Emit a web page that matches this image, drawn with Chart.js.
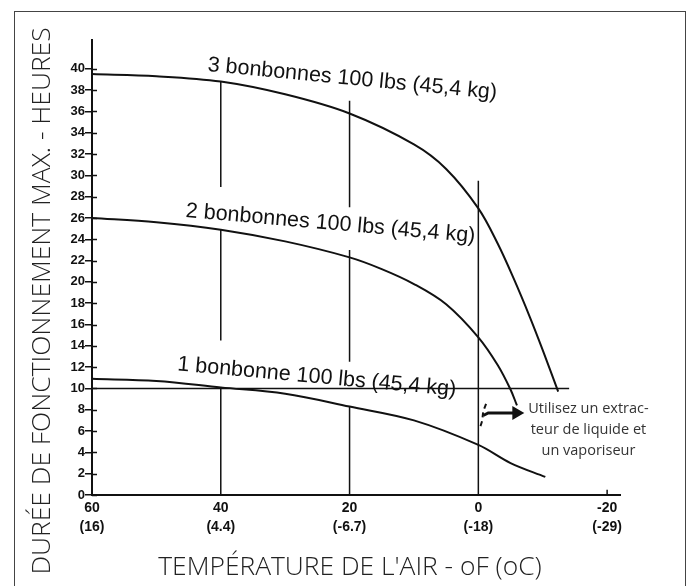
<!DOCTYPE html>
<html>
<head>
<meta charset="utf-8">
<script src="https://cdn.jsdelivr.net/npm/chart.js@4.4.0/dist/chart.umd.min.js"></script>
<style>
html, body { margin: 0; padding: 0; background: #fff; }
#wrap { position: relative; width: 689px; height: 586px; overflow: hidden; }
#frame { position: absolute; left: 14px; top: 11px; width: 670px; height: 620px; border: 1.5px solid #444; }
canvas { position: absolute; left: 0; top: 0; }
</style>
</head>
<body>
<div id="wrap"><div id="frame"></div><canvas id="chart" width="689" height="586"></canvas></div>
<script>
// hours of running time vs air temperature (°F)
var temps3 = [60, 50, 40, 30, 20, 10, 5, 0, -3, -5.5, -8, -10, -12.4];
var hours3 = [39.5, 39.3, 38.8, 37.6, 35.8, 32.9, 30.6, 26.9, 23.6, 20.3, 16.7, 13.6, 9.7];

var temps2 = [60, 50, 40, 30, 20, 15, 10, 5, 0, -3, -5, -6];
var hours2 = [26.0, 25.6, 24.9, 23.8, 22.3, 21.2, 19.8, 17.9, 14.8, 12.2, 9.9, 8.4];

var temps1 = [60, 50, 40, 30, 20, 10, 0, -5, -10.4];
var hours1 = [10.9, 10.7, 10.1, 9.5, 8.3, 7.0, 4.7, 3.0, 1.7];

// vertical guide lines: [from, to] segments at each temperature
var guide40 = [[0, 10.1], [14.5, 24.9], [28.9, 38.8]];
var guide20 = [[0, 8.3], [12.5, 23.0], [27.0, 37.0]];
var guide0  = [[0, 29.5]];
var guideM20 = [[0, 0.5]];

// limit line at 10 h
var limitTemps = [60, -14.1];
var limitHours = [10, 10];

// arrow + break marks near 0 °F
var arrowTemps = [-0.76, -1.54, -5.9];
var arrowHours = [7.46, 7.7, 7.7];
var breakTemps = [-1.2, -0.76, -0.6, -0.3];
var breakHours = [8.55, 7.8, 7.0, 6.4];

var xTicksF = [60, 40, 20, 0, -20];
var xTicksC = ['(16)', '(4.4)', '(-6.7)', '(-18)', '(-29)'];
var yTicks = [0, 2, 4, 6, 8, 10, 12, 14, 16, 18, 20, 22, 24, 26, 28, 30, 32, 34, 36, 38, 40];

var curveLabels = [
    { text: '3 bonbonnes 100 lbs (45,4 kg)', t: 42.1, v: 39.8, angle: 5.5 },
    { text: '2 bonbonnes 100 lbs (45,4 kg)', t: 45.5, v: 26.1, angle: 5.0 },
    { text: '1 bonbonne 100 lbs (45,4 kg)',  t: 46.8, v: 11.7, angle: 5.2 }
];
var noteLines = ['Utilisez un extrac-', 'teur de liquide et', 'un vaporiseur'];

function pts(xs, ys) {
    var out = [];
    for (var i = 0; i < xs.length; i++) out.push({ x: xs[i], y: ys[i] });
    return out;
}

function segs(t, list) {
    var out = [];
    list.forEach(function (s) {
        out.push({ x: t, y: s[0] });
        out.push({ x: t, y: s[1] });
        out.push({ x: t, y: null });
    });
    return out;
}

var curveStyle = { borderColor: '#111', borderWidth: 2, pointRadius: 0, tension: 0.35, fill: false };
var guideStyle = { borderColor: '#111', borderWidth: 1.5, pointRadius: 0, tension: 0, spanGaps: false, fill: false };

function ds(data, style, extra) {
    var d = Object.assign({ data: data }, style);
    return Object.assign(d, extra || {});
}

var extras = {
    id: 'extras',
    afterDraw: function (chart) {
        var ctx = chart.ctx, xs = chart.scales.x, ys = chart.scales.y;
        ctx.save();

        // inner half of y tick marks
        ctx.strokeStyle = '#111';
        ctx.lineWidth = 1.5;
        yTicks.forEach(function (v) {
            var py = Math.round(ys.getPixelForValue(v)) + 0.5;
            ctx.beginPath();
            ctx.moveTo(xs.left, py);
            ctx.lineTo(xs.left + 5, py);
            ctx.stroke();
        });

        // curve labels
        ctx.fillStyle = '#111';
        ctx.font = '21.5px "Liberation Sans", Arial, sans-serif';
        ctx.textAlign = 'left';
        ctx.textBaseline = 'alphabetic';
        curveLabels.forEach(function (l) {
            ctx.save();
            ctx.translate(xs.getPixelForValue(l.t), ys.getPixelForValue(l.v));
            ctx.rotate(l.angle * Math.PI / 180);
            ctx.fillText(l.text, 0, 0);
            ctx.restore();
        });

        // note
        ctx.fillStyle = '#333';
        ctx.font = '14.5px "Open Sans", sans-serif';
        ctx.textAlign = 'center';
        ctx.textBaseline = 'middle';
        var nx = xs.getPixelForValue(-17.1), ny = ys.getPixelForValue(8.1);
        noteLines.forEach(function (s, i) { ctx.fillText(s, nx, ny + i * 21); });

        // axis titles
        ctx.fillStyle = '#222';
        var yTitle = 'DURÉE DE FONCTIONNEMENT MAX. - HEURES';
        ctx.font = '300 22px "Open Sans", sans-serif';
        var size = 22 * 547 / ctx.measureText(yTitle).width;
        ctx.font = '300 ' + size.toFixed(1) + 'px "Open Sans", sans-serif';
        ctx.save();
        ctx.translate(42, 301);
        ctx.rotate(-Math.PI / 2);
        ctx.fillText(yTitle, 0, 0);
        ctx.restore();
        ctx.fillText("TEMPÉRATURE DE L'AIR - oF (oC)", 350, 567);

        ctx.restore();
    }
};

var config = {
    type: 'line',
    data: {
        datasets: [
            ds(pts(temps3, hours3), curveStyle),
            ds(pts(temps2, hours2), curveStyle),
            ds(pts(temps1, hours1), curveStyle),
            ds(segs(40, guide40), guideStyle),
            ds(segs(20, guide20), guideStyle),
            ds(segs(0, guide0), guideStyle),
            ds(segs(-20, guideM20), guideStyle),
            ds(pts(limitTemps, limitHours), guideStyle),
            ds(pts(breakTemps, breakHours), guideStyle, { borderWidth: 2, borderDash: [5, 4], tension: 0.3 }),
            ds(pts(arrowTemps, arrowHours), guideStyle, {
                borderWidth: 3,
                pointRadius: [0, 0, 5],
                pointStyle: 'triangle',
                pointRotation: 90,
                pointBackgroundColor: '#111',
                pointBorderColor: '#111'
            })
        ]
    },
    options: {
        responsive: false,
        animation: false,
        layout: { padding: { top: 40, right: 69, left: 0, bottom: 0 } },
        plugins: { legend: { display: false }, tooltip: { enabled: false } },
        scales: {
            x: {
                type: 'linear',
                reverse: true,
                min: -22,
                max: 60,
                grid: { display: false, drawTicks: false },
                border: { display: true, color: '#111', width: 2 },
                afterBuildTicks: function (s) { s.ticks = xTicksF.map(function (v) { return { value: v }; }); },
                afterFit: function (s) { s.height = 91; },
                ticks: {
                    padding: 4,
                    color: '#111',
                    font: { family: '"Liberation Sans", Arial, sans-serif', size: 14, weight: 'bold', lineHeight: 1.35 },
                    maxRotation: 0,
                    callback: function (v) {
                        var i = xTicksF.indexOf(v);
                        return [String(v), xTicksC[i]];
                    }
                }
            },
            y: {
                type: 'linear',
                min: 0,
                max: 42.7,
                grid: { display: true, drawOnChartArea: false, drawTicks: true, tickLength: 7, color: '#111', lineWidth: 1.5 },
                border: { display: true, color: '#111', width: 2 },
                afterBuildTicks: function (s) { s.ticks = yTicks.map(function (v) { return { value: v }; }); },
                afterFit: function (s) { s.width = 92; },
                ticks: {
                    padding: 0,
                    color: '#111',
                    font: { family: '"Liberation Sans", Arial, sans-serif', size: 13, weight: 'bold' }
                }
            }
        }
    },
    plugins: [extras]
};

var ctx = document.getElementById('chart').getContext('2d');
window.myChart = new Chart(ctx, config);
</script>
</body>
</html>
